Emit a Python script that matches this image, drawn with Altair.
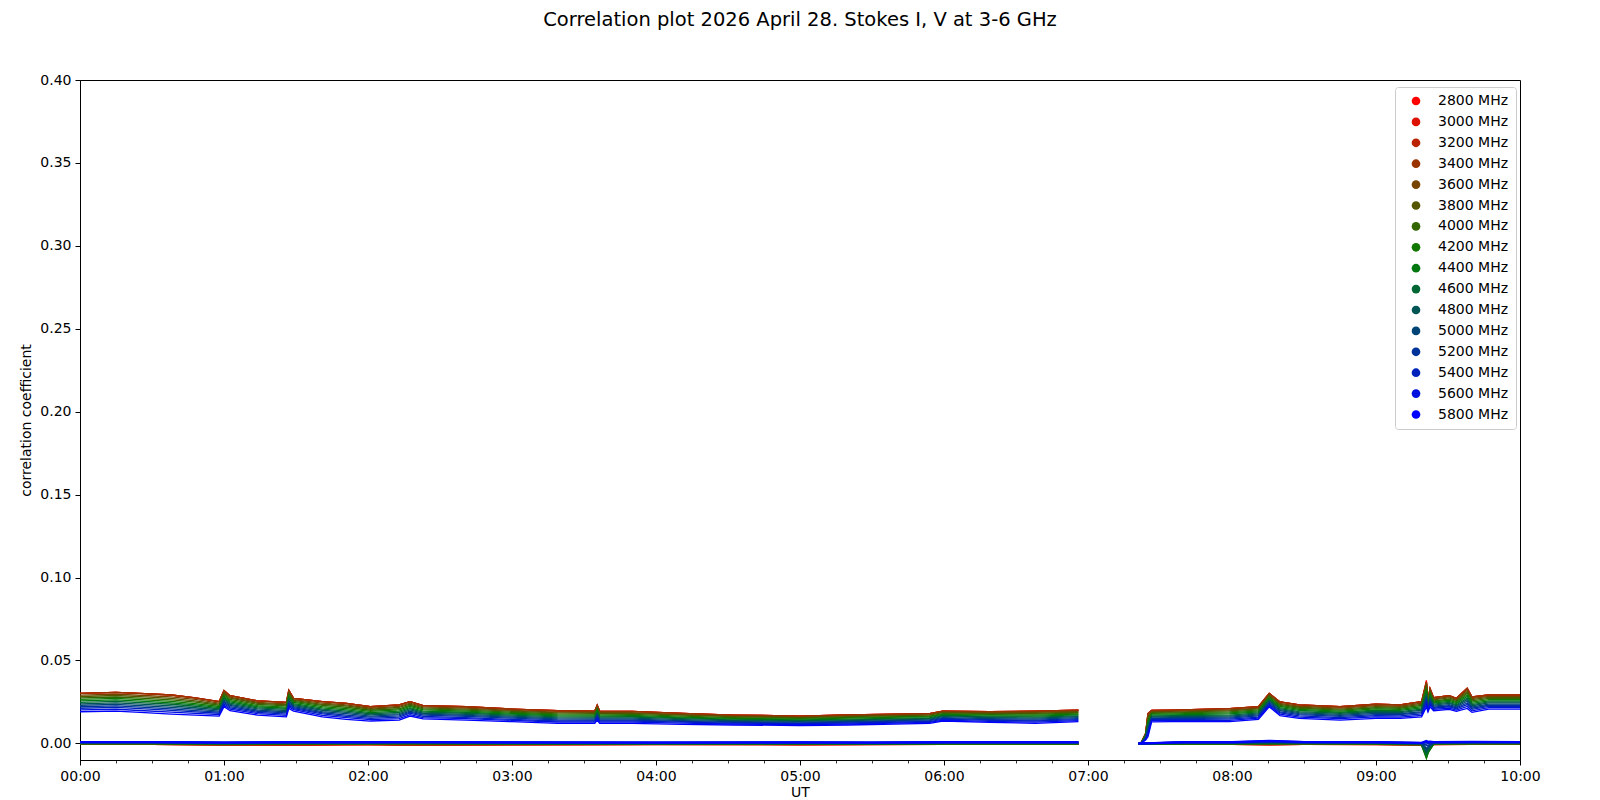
import altair as alt
import pandas as pd

# ---------------- data ----------------
freqs = ["2800 MHz", "3000 MHz", "3200 MHz", "3400 MHz", "3600 MHz", "3800 MHz",
         "4000 MHz", "4200 MHz", "4400 MHz", "4600 MHz", "4800 MHz", "5000 MHz",
         "5200 MHz", "5400 MHz", "5600 MHz", "5800 MHz"]
colors = ["#ff0000", "#dd1100", "#bb2200", "#993300", "#774400", "#555500",
          "#336600", "#117700", "#00770f", "#006633", "#005555", "#004477",
          "#003399", "#0022bb", "#0011dd", "#0000ff"]

# Stokes I sample times (UT)
i_times = ["00:00:00", "00:15:00", "00:27:00", "00:38:00", "00:48:00", "00:58:00", "01:00:00",
           "01:02:30", "01:14:00", "01:26:00", "01:27:00", "01:29:00", "01:41:00", "01:51:00",
           "02:01:00", "02:13:00", "02:17:30", "02:23:00", "02:41:00", "03:00:00", "03:19:00",
           "03:34:30", "03:35:30", "03:36:30", "03:50:00", "04:11:00", "04:32:00", "05:00:00",
           "05:20:00", "05:54:00", "05:59:30", "06:19:00", "06:38:00", "06:56:00",
           "07:22:00", "07:24:00", "07:25:00", "07:26:30", "07:35:00", "07:59:00", "08:11:00",
           "08:15:30", "08:20:00", "08:28:00", "08:45:00", "09:00:00", "09:10:00", "09:19:00",
           "09:21:00", "09:21:40", "09:22:30", "09:24:00", "09:30:30", "09:33:30", "09:38:00",
           "09:40:00", "09:47:00", "10:00:00"]

# top of the band: 2800-3400 MHz lie on top of each other
i_2800 = [.0302, .0308, .0300, .0292, .0275, .0252, .0318, .0288, .0256, .0248, .0320, .0272, .0252, .0242,
          .0221, .0232, .0252, .0228, .0221, .0207, .0197, .0195, .0230, .0195, .0193, .0181, .0171, .0165,
          .0172, .0180, .0195, .0191, .0195, .0200,
          .0000, .0060, .0180, .0199, .0201, .0210, .0221, .0302, .0250, .0232, .0221, .0236, .0232, .0252,
          .0380, .0260, .0333, .0276, .0288, .0272, .0333, .0280, .0292, .0292]
i_3000 = [.0302, .0308, .0300, .0292, .0275, .0252, .0318, .0288, .0256, .0248, .0320, .0272, .0252, .0242,
          .0221, .0232, .0252, .0228, .0221, .0207, .0197, .0195, .0230, .0195, .0193, .0181, .0171, .0165,
          .0172, .0180, .0195, .0191, .0195, .0200,
          .0000, .0060, .0180, .0199, .0201, .0210, .0221, .0302, .0250, .0232, .0221, .0236, .0232, .0252,
          .0370, .0260, .0330, .0276, .0288, .0272, .0333, .0280, .0292, .0292]
i_3200 = [.0302, .0308, .0300, .0292, .0275, .0252, .0318, .0288, .0256, .0248, .0320, .0272, .0252, .0242,
          .0221, .0232, .0252, .0228, .0221, .0207, .0197, .0195, .0230, .0195, .0193, .0181, .0171, .0165,
          .0172, .0180, .0195, .0191, .0195, .0200,
          .0000, .0060, .0180, .0199, .0201, .0210, .0221, .0302, .0250, .0232, .0221, .0236, .0232, .0252,
          .0370, .0260, .0330, .0276, .0288, .0272, .0333, .0280, .0292, .0292]
i_3400 = [.0302, .0308, .0300, .0292, .0275, .0252, .0318, .0288, .0256, .0248, .0320, .0272, .0252, .0242,
          .0221, .0232, .0252, .0228, .0221, .0207, .0197, .0195, .0230, .0195, .0193, .0181, .0171, .0165,
          .0172, .0180, .0195, .0191, .0195, .0200,
          .0000, .0060, .0180, .0199, .0201, .0210, .0221, .0302, .0250, .0232, .0221, .0236, .0232, .0252,
          .0370, .0260, .0330, .0276, .0288, .0272, .0333, .0280, .0292, .0292]
i_3600 = [.0291, .0297, .0289, .0281, .0265, .0243, .0308, .0279, .0248, .0239, .0309, .0264, .0243, .0232,
          .0212, .0223, .0243, .0220, .0213, .0199, .0189, .0188, .0221, .0188, .0186, .0174, .0165, .0159,
          .0166, .0174, .0189, .0185, .0188, .0193,
          .0000, .0056, .0166, .0192, .0194, .0202, .0213, .0294, .0242, .0224, .0213, .0228, .0224, .0243,
          .0364, .0253, .0322, .0268, .0280, .0264, .0321, .0271, .0284, .0284]
i_3800 = [.0283, .0289, .0281, .0272, .0257, .0237, .0302, .0273, .0242, .0233, .0302, .0259, .0236, .0226,
          .0206, .0217, .0237, .0214, .0207, .0194, .0184, .0182, .0215, .0182, .0181, .0170, .0161, .0155,
          .0162, .0170, .0185, .0180, .0182, .0188,
          .0000, .0053, .0156, .0187, .0189, .0197, .0208, .0288, .0236, .0218, .0207, .0222, .0218, .0236,
          .0353, .0248, .0314, .0263, .0274, .0259, .0312, .0264, .0278, .0278]
i_4000 = [.0274, .0280, .0272, .0263, .0249, .0230, .0294, .0265, .0235, .0226, .0293, .0253, .0229, .0218,
          .0200, .0209, .0230, .0208, .0201, .0188, .0178, .0177, .0208, .0177, .0175, .0164, .0156, .0151,
          .0157, .0165, .0180, .0175, .0177, .0183,
          .0000, .0050, .0145, .0182, .0184, .0190, .0202, .0282, .0230, .0212, .0201, .0215, .0212, .0229,
          .0340, .0243, .0305, .0256, .0267, .0252, .0303, .0257, .0271, .0271]
i_4200 = [.0265, .0271, .0262, .0254, .0240, .0223, .0286, .0258, .0228, .0219, .0284, .0247, .0222, .0210,
          .0193, .0202, .0223, .0202, .0195, .0182, .0172, .0171, .0200, .0171, .0169, .0159, .0151, .0146,
          .0152, .0161, .0175, .0170, .0171, .0177,
          .0000, .0047, .0134, .0176, .0178, .0184, .0196, .0275, .0223, .0205, .0195, .0208, .0205, .0222,
          .0327, .0237, .0296, .0250, .0261, .0246, .0293, .0249, .0264, .0264]
i_4400 = [.0257, .0262, .0253, .0245, .0232, .0216, .0278, .0251, .0221, .0212, .0275, .0240, .0214, .0202,
          .0186, .0195, .0216, .0195, .0188, .0176, .0166, .0165, .0193, .0165, .0163, .0154, .0146, .0142,
          .0147, .0156, .0170, .0165, .0165, .0172,
          .0000, .0044, .0123, .0171, .0172, .0178, .0190, .0269, .0216, .0199, .0188, .0201, .0199, .0214,
          .0314, .0231, .0287, .0244, .0254, .0240, .0283, .0242, .0257, .0257]
i_4600 = [.0248, .0253, .0244, .0236, .0224, .0209, .0271, .0243, .0214, .0205, .0267, .0234, .0207, .0195,
          .0179, .0187, .0209, .0189, .0182, .0170, .0160, .0159, .0186, .0159, .0158, .0149, .0142, .0137,
          .0142, .0151, .0166, .0160, .0159, .0166,
          .0000, .0040, .0111, .0165, .0167, .0171, .0184, .0262, .0210, .0192, .0182, .0194, .0192, .0207,
          .0302, .0226, .0278, .0237, .0247, .0233, .0273, .0234, .0250, .0250]
i_4800 = [.0239, .0244, .0235, .0226, .0215, .0202, .0263, .0236, .0208, .0198, .0258, .0228, .0200, .0187,
          .0172, .0180, .0202, .0182, .0175, .0164, .0154, .0153, .0179, .0153, .0152, .0143, .0137, .0133,
          .0137, .0146, .0161, .0155, .0153, .0161,
          .0000, .0037, .0100, .0160, .0161, .0165, .0178, .0256, .0203, .0186, .0175, .0188, .0186, .0200,
          .0289, .0220, .0269, .0231, .0241, .0227, .0264, .0227, .0244, .0244]
i_5000 = [.0230, .0235, .0226, .0217, .0207, .0195, .0255, .0229, .0201, .0191, .0249, .0222, .0192, .0179,
          .0165, .0173, .0195, .0176, .0169, .0158, .0148, .0147, .0172, .0147, .0146, .0138, .0132, .0128,
          .0132, .0142, .0156, .0149, .0147, .0155,
          .0000, .0034, .0089, .0154, .0156, .0159, .0172, .0249, .0197, .0179, .0169, .0181, .0179, .0192,
          .0276, .0215, .0260, .0225, .0234, .0221, .0254, .0220, .0237, .0237]
i_5200 = [.0221, .0226, .0217, .0208, .0198, .0189, .0247, .0222, .0194, .0184, .0240, .0216, .0185, .0171,
          .0158, .0166, .0189, .0170, .0163, .0152, .0142, .0141, .0164, .0141, .0140, .0133, .0127, .0123,
          .0128, .0137, .0151, .0144, .0141, .0150,
          .0000, .0031, .0078, .0149, .0150, .0152, .0166, .0243, .0190, .0173, .0163, .0174, .0173, .0185,
          .0263, .0209, .0251, .0218, .0227, .0214, .0244, .0212, .0230, .0230]
i_5400 = [.0212, .0217, .0208, .0199, .0190, .0182, .0239, .0214, .0187, .0177, .0232, .0210, .0178, .0163,
          .0151, .0158, .0182, .0163, .0156, .0145, .0135, .0135, .0157, .0135, .0135, .0128, .0122, .0119,
          .0123, .0132, .0146, .0139, .0135, .0144,
          .0000, .0028, .0067, .0143, .0144, .0146, .0159, .0236, .0184, .0166, .0156, .0167, .0166, .0178,
          .0250, .0203, .0242, .0212, .0221, .0208, .0234, .0205, .0223, .0223]
i_5600 = [.0202, .0206, .0197, .0189, .0181, .0174, .0231, .0206, .0180, .0169, .0222, .0203, .0169, .0155,
          .0144, .0150, .0174, .0156, .0149, .0139, .0129, .0128, .0149, .0128, .0128, .0122, .0117, .0114,
          .0117, .0127, .0141, .0133, .0128, .0138,
          .0000, .0024, .0054, .0137, .0138, .0139, .0153, .0229, .0176, .0159, .0149, .0160, .0159, .0169,
          .0236, .0197, .0231, .0205, .0213, .0201, .0223, .0196, .0216, .0216]
i_5800 = [.0191, .0195, .0186, .0177, .0170, .0165, .0221, .0197, .0171, .0160, .0211, .0195, .0160, .0145,
          .0135, .0141, .0165, .0148, .0141, .0131, .0121, .0121, .0140, .0121, .0121, .0115, .0111, .0108,
          .0111, .0121, .0135, .0127, .0121, .0131,
          .0000, .0020, .0040, .0130, .0131, .0131, .0145, .0221, .0168, .0151, .0141, .0151, .0151, .0160,
          .0220, .0190, .0220, .0197, .0205, .0193, .0211, .0187, .0207, .0207]

# Stokes V sample times (UT)
v_times = ["00:00:00", "00:30:00", "01:00:00", "01:27:00", "02:00:00", "02:17:30", "03:00:00",
           "04:00:00", "05:00:00", "05:30:00", "06:00:00", "06:30:00", "06:56:00",
           "07:21:00", "07:40:00", "08:00:00", "08:15:30", "08:30:00", "09:00:00", "09:19:00",
           "09:21:00", "09:21:40", "09:22:30", "09:24:00", "09:40:00", "10:00:00"]
v_2800 = [-.0004, -.0004, -.0008, -.0009, -.0005, -.0009, -.0006, -.0005, -.0006, -.0005, -.0004, -.0004, -.0004,
          .0000, -.0004, -.0004, -.0007, -.0004, -.0005, -.0007, -.0040, -.0025, -.0015, -.0005, -.0004, -.0004]
v_3000 = [-.0004, -.0004, -.0007, -.0009, -.0005, -.0008, -.0006, -.0005, -.0006, -.0005, -.0004, -.0004, -.0004,
          .0000, -.0004, -.0004, -.0006, -.0004, -.0005, -.0007, -.0045, -.0030, -.0020, -.0005, -.0004, -.0004]
v_3200 = [-.0003, -.0003, -.0007, -.0008, -.0004, -.0008, -.0005, -.0004, -.0005, -.0004, -.0003, -.0003, -.0003,
          .0000, -.0003, -.0003, -.0005, -.0003, -.0004, -.0006, -.0050, -.0030, -.0020, -.0004, -.0003, -.0003]
v_3400 = [-.0003, -.0003, -.0006, -.0004, -.0004, -.0007, -.0005, -.0004, -.0004, -.0004, -.0003, -.0003, -.0003,
          .0000, -.0003, -.0003, -.0004, -.0003, -.0003, -.0006, -.0055, -.0035, -.0025, -.0003, -.0003, -.0003]
v_3600 = [-.0002, -.0002, -.0005, -.0003, -.0003, -.0003, -.0004, -.0004, -.0004, -.0004, -.0003, -.0003, -.0003,
          .0000, -.0003, -.0003, -.0003, -.0002, -.0003, -.0006, -.0060, -.0040, -.0030, -.0003, -.0002, -.0002]
v_3800 = [-.0001, -.0001, -.0004, -.0002, -.0002, -.0002, -.0003, -.0004, -.0003, -.0004, -.0002, -.0002, -.0002,
          .0000, -.0002, -.0002, -.0002, -.0001, -.0002, -.0006, -.0070, -.0045, -.0030, -.0002, -.0001, -.0001]
v_4000 = [.0000, .0000, -.0003, -.0001, -.0001, .0000, -.0002, -.0003, -.0002, -.0003, -.0001, -.0001, -.0001,
          .0000, -.0001, -.0001, -.0001, .0000, -.0001, -.0005, -.0080, -.0050, -.0035, -.0001, .0000, .0000]
v_4200 = [.0001, .0001, -.0002, .0000, .0000, .0001, -.0001, -.0002, -.0001, -.0002, .0000, .0000, .0000,
          .0000, .0000, .0000, .0000, .0001, .0000, -.0004, -.0085, -.0055, -.0035, .0000, .0001, .0001]
v_4400 = [.0002, .0002, -.0001, .0001, .0001, .0002, .0000, -.0001, .0000, -.0001, .0001, .0001, .0001,
          .0000, .0001, .0001, .0002, .0002, .0001, -.0003, -.0075, -.0050, -.0030, .0001, .0002, .0002]
v_4600 = [.0003, .0003, .0000, .0002, .0002, .0003, .0001, .0000, .0001, .0000, .0002, .0002, .0002,
          .0000, .0002, .0002, .0004, .0003, .0002, -.0002, -.0060, -.0045, -.0020, .0002, .0003, .0003]
v_4800 = [.0004, .0004, .0001, .0003, .0003, .0004, .0002, .0001, .0002, .0001, .0003, .0003, .0003,
          .0000, .0003, .0003, .0006, .0004, .0003, -.0001, -.0045, -.0035, -.0015, .0003, .0004, .0004]
v_5000 = [.0005, .0005, .0002, .0004, .0004, .0005, .0003, .0002, .0003, .0002, .0004, .0004, .0004,
          .0000, .0004, .0004, .0008, .0005, .0004, .0000, -.0030, -.0025, -.0010, .0004, .0005, .0005]
v_5200 = [.0006, .0006, .0003, .0005, .0005, .0006, .0004, .0003, .0004, .0003, .0005, .0005, .0005,
          .0000, .0005, .0005, .0010, .0006, .0005, .0001, -.0010, -.0015, -.0005, .0005, .0006, .0006]
v_5400 = [.0007, .0007, .0004, .0006, .0006, .0007, .0005, .0004, .0005, .0004, .0006, .0006, .0006,
          .0000, .0006, .0006, .0012, .0007, .0006, .0002, .0005, .0000, .0004, .0006, .0008, .0007]
v_5600 = [.0008, .0008, .0005, .0007, .0007, .0008, .0006, .0005, .0006, .0005, .0007, .0007, .0007,
          .0000, .0007, .0007, .0014, .0008, .0007, .0003, .0010, .0005, .0008, .0007, .0009, .0008]
v_5800 = [.0009, .0009, .0006, .0008, .0008, .0009, .0007, .0006, .0007, .0006, .0008, .0008, .0008,
          .0000, .0008, .0008, .0016, .0009, .0008, .0004, .0015, .0010, .0012, .0008, .0010, .0009]

y_ticks = [0.0, 0.05, 0.10, 0.15, 0.20, 0.25, 0.30, 0.35, 0.40]

stokes_i = [i_2800, i_3000, i_3200, i_3400, i_3600, i_3800, i_4000, i_4200,
            i_4400, i_4600, i_4800, i_5000, i_5200, i_5400, i_5600, i_5800]
stokes_v = [v_2800, v_3000, v_3200, v_3400, v_3600, v_3800, v_4000, v_4200,
            v_4400, v_4600, v_4800, v_5000, v_5200, v_5400, v_5600, v_5800]


def to_minutes(t):
    h, m, s = (int(p) for p in t.split(":"))
    return h * 60 + m + s / 60.0


rows = []
for f, iv, vv in zip(freqs, stokes_i, stokes_v):
    assert len(iv) == len(i_times), (f, len(iv))
    assert len(vv) == len(v_times), (f, len(vv))
    for t, val in zip(i_times, iv):
        mnt = to_minutes(t)
        rows.append({"freq": f, "stokes": "I", "minutes": mnt, "value": val,
                     "key": "I" + ("a" if mnt < 420 else "b")})
    for t, val in zip(v_times, vv):
        mnt = to_minutes(t)
        rows.append({"freq": f, "stokes": "V", "minutes": mnt, "value": val,
                     "key": "V" + ("a" if mnt < 420 else "b")})
df = pd.DataFrame(rows)

FONT = "DejaVu Sans"

x_enc = alt.X(
    "minutes:Q",
    scale=alt.Scale(domain=[0, 600], nice=False, zero=False),
    axis=alt.Axis(
        title="UT",
        values=list(range(0, 601, 15)),
        labelExpr="datum.value % 60 === 0 ? ((datum.value < 600 ? '0' : '') + (datum.value / 60) + ':00') : ''",
        labelOverlap=False,
        tickSize={"condition": {"test": "datum.value % 60 === 0", "value": 5}, "value": 3},
        tickWidth={"condition": {"test": "datum.value % 60 === 0", "value": 1}, "value": 0.8},
        labelPadding=4,
        titlePadding=2,
        labelFlush=False,
        grid=False,
    ),
)
y_enc = alt.Y(
    "value:Q",
    scale=alt.Scale(domain=[-0.01, 0.40], nice=False, zero=False),
    axis=alt.Axis(title="correlation coefficient", values=y_ticks, format=".2f",
                  tickSize=5, labelPadding=4, titlePadding=6, labelFlush=False, grid=False),
)
c_enc = alt.Color(
    "freq:N",
    scale=alt.Scale(domain=freqs, range=colors),
    legend=alt.Legend(
        title=None, orient="none", legendX=1315, legendY=7,
        symbolType="circle", symbolSize=75, symbolStrokeWidth=0, symbolOpacity=1,
        labelFont=FONT, labelFontSize=14, labelColor="black",
        padding=7, rowPadding=6.9, symbolOffset=7, labelOffset=15,
        strokeColor="#cccccc", fillColor="white", cornerRadius=3,
    ),
    sort=freqs,
)

# empty circle layer first, so the legend shows filled dots
legend_layer = alt.Chart(df).transform_filter("false").mark_circle(size=75).encode(
    x=x_enc, y=y_enc, color=c_enc
)

layers = [legend_layer]
for f in freqs:
    sub_i = df[(df["freq"] == f) & (df["stokes"] == "I")]
    sub_v = df[(df["freq"] == f) & (df["stokes"] == "V")]
    layers.append(
        alt.Chart(sub_i).mark_line(strokeWidth=1.3, clip=True).encode(
            x=x_enc, y=y_enc, color=c_enc, detail="key:N", order="minutes:Q"
        )
    )
    layers.append(
        alt.Chart(sub_v).mark_line(strokeWidth=2.0, clip=True).encode(
            x=x_enc, y=y_enc, color=c_enc, detail="key:N", order="minutes:Q"
        )
    )

chart = (
    alt.layer(*layers)
    .properties(
        width=1440,
        height=680,
        background="white",
        autosize=alt.AutoSizeParams(type="none"),
        padding={"left": 72, "top": 72, "right": 72, "bottom": 40},
        title=alt.TitleParams(
            "Correlation plot 2026 April 28. Stokes I, V at 3-6 GHz",
            font=FONT, fontSize=19.5, fontWeight="normal", color="black",
            anchor="middle", frame="group", offset=43,
        ),
    )
    .configure_view(stroke="black", strokeWidth=1)
    .configure_axis(
        grid=False, labelFont=FONT, titleFont=FONT, labelFontSize=14, titleFontSize=14,
        titleFontWeight="normal", labelColor="black", titleColor="black",
        tickColor="black", domainColor="black", domainWidth=1,
    )
)

chart.save("out.html", embed_options={"renderer": "svg", "actions": False})
